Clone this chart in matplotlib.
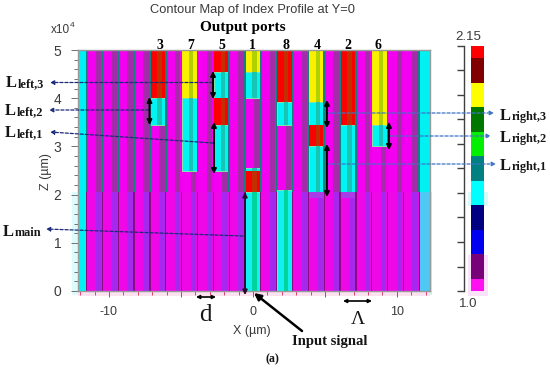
import matplotlib
matplotlib.use("Agg")
import matplotlib.pyplot as plt
from matplotlib.patches import Rectangle, FancyArrowPatch
from matplotlib.ticker import MultipleLocator, FixedLocator, NullFormatter

W, H = 550, 370
TITLE = "Contour Map of Index Profile at Y=0"
port_labels = ["3", "7", "5", "1", "8", "4", "2", "6"]
port_centers = [-6.6, -4.4, -2.2, 0.0, 2.2, 4.4, 6.6, 8.8]
cell_centers = [-11.0, -9.9, -8.8, -7.7, -6.6, -5.5, -4.4, -3.3, -2.2, -1.1, 0.0,
                1.1, 2.2, 3.3, 4.4, 5.5, 6.6, 7.7, 8.8, 9.9, 11.0]
port_segments = {
    "3": [(4.0, 5.0, "red"), (3.45, 4.0, "cyan")],
    "7": [(4.0, 5.0, "yellow"), (2.5, 4.0, "cyan")],
    "5": [(4.55, 5.0, "red"), (4.0, 4.55, "cyan"), (3.45, 4.0, "red"), (2.5, 3.45, "cyan")],
    "1": [(4.55, 5.0, "yellow"), (4.0, 4.55, "cyan"), (2.5, 2.55, "cyan"), (2.05, 2.5, "red"),
          (0.0, 2.05, "lowcyan")],
    "8": [(3.93, 5.0, "red"), (3.45, 3.93, "cyan"), (0.0, 2.1, "lowcyan")],
    "4": [(3.93, 5.0, "yellow"), (3.45, 3.93, "cyan"), (3.0, 3.45, "red"), (2.05, 3.0, "cyan"),
          (1.93, 2.05, "lowpurple")],
    "2": [(3.45, 5.0, "red"), (2.05, 3.45, "cyan"), (1.93, 2.05, "lowpurple")],
    "6": [(3.45, 5.0, "yellow"), (3.0, 3.45, "cyan")],
}
z_split = 2.05
cbar_bounds = [1.0, 1.0575, 1.1725, 1.2875, 1.4025, 1.5175, 1.6325, 1.7475, 1.8625,
               1.9775, 2.0925, 2.15]
cbar_colors = ["#ff10f0", "#780078", "#0000f0", "#000080", "#00ffff", "#008080",
               "#00f000", "#007800", "#ffff00", "#800000", "#ff0000"]
cbar_ticks = [1.0, 1.115, 1.23, 1.345, 1.46, 1.575, 1.69, 1.805, 1.92, 2.035, 2.15]

base = {"red": "#fa0000", "yellow": "#fbf000", "cyan": "#00f4f4", "magenta": "#f400f0",
        "lowcyan": "#12f0f4", "lowpurple": "#a83ce8", "lowmagenta": "#ee08e8"}
stripe = {"red": "#c03000", "yellow": "#b0d000", "cyan": "#18c4b4", "magenta": "#a42ca8",
          "lowcyan": "#00d49c", "lowpurple": "#a83ce8", "lowmagenta": "#a428ee"}

plt.rcParams["font.family"] = ["Liberation Sans", "DejaVu Sans"]
GREY = "#3a3a3a"
fig = plt.figure(figsize=(W / 100, H / 100), dpi=100, facecolor="white")

def fx(x): return x / W
def fy(y): return 1 - y / H

def halo(x0, y0, w, h, c):
    fig.add_artist(Rectangle((fx(x0), fy(y0 + h)), w / W, h / H, transform=fig.transFigure,
                             fc=c, ec="none", zorder=0))

halo(72, 192, 6, 103, "#dcfbfb")
halo(78, 292, 352, 4, "#fde2f0")
halo(430, 192, 2, 103, "#c8f8e0")
halo(468, 192, 20, 14, "#d8fbfb")
halo(468, 255, 20, 41, "#fbe2fb")

ax = fig.add_axes([78 / W, 1 - 291 / H, (430 - 78) / W, (291 - 50) / H])
ax.set_facecolor("none")
ax.set_xlim(-12.15, 12.3)
ax.set_ylim(0, 5)

def column(c, z0, z1, kind, width=1.1):
    ax.bar(c, z1 - z0, width=width, bottom=z0, color=base[kind], linewidth=0, zorder=2)
    ax.bar(c + 0.27, z1 - z0, width=0.38, bottom=z0, color=stripe[kind], linewidth=0, zorder=3)

# slabs
ax.bar(-11.85, 5, width=0.6, color="#00f0f4", linewidth=0, zorder=2)
ax.bar(11.925, z_split, width=0.75, color="#50c8f4", linewidth=0, zorder=2)
ax.bar(11.925, 5 - z_split, width=0.75, bottom=z_split, color="#00f0f4", linewidth=0, zorder=2)

# background cells
for c in cell_centers:
    column(c, z_split, 5, "magenta")
    column(c, 0, z_split, "lowmagenta")
    for edge in (c - 0.55, c + 0.55):
        ax.bar(edge, 5 - z_split, width=0.11, bottom=z_split, color="#128080", linewidth=0, zorder=6)
        ax.bar(edge, z_split, width=0.09, color="#8e0a80", linewidth=0, zorder=6)

# guide segments
for lab, c in zip(port_labels, port_centers):
    for z0, z1, kind in port_segments[lab]:
        ec = "#7fe8a8" if "cyan" in kind else "none"
        ax.bar(c, z1 - z0, width=1.04, bottom=z0, color=base[kind], edgecolor=ec,
               linewidth=0.7, zorder=4)
        ax.bar(c + 0.1, z1 - z0, width=0.3, bottom=z0, color=stripe[kind], linewidth=0, zorder=5)

for s in ax.spines.values():
    s.set_color("#9a9a9a")
    s.set_linewidth(1.0)
    s.set_zorder(8)
ax.xaxis.set_major_locator(FixedLocator([-10, -5, 0, 5, 10]))
ax.xaxis.set_minor_locator(MultipleLocator(1))
ax.set_xticklabels(["-10", "", "0", "", "10"])
ax.yaxis.set_major_locator(MultipleLocator(1))
ax.yaxis.set_minor_locator(MultipleLocator(0.2))
ax.tick_params(axis="x", which="major", length=4, width=0.7, color="#806070",
               labelsize=9, labelcolor=GREY, pad=7)
ax.tick_params(axis="x", which="minor", length=3, width=0.7, color="#e04070")
ax.tick_params(axis="y", which="major", length=5, width=0.7, color="#707070",
               labelsize=10, labelcolor=GREY, pad=7)
ax.tick_params(axis="y", which="minor", length=3, width=0.7, color="#707070")

# colour bar: the axes starts at the tick line, the bar sits to its right
cax = fig.add_axes([464 / W, 1 - 291 / H, 20 / W, (291 - 46) / H])
cax.set_xlim(0, 20)
cax.set_ylim(1.0, 2.15)
cax.set_facecolor("none")
for lo, hi, col in zip(cbar_bounds[:-1], cbar_bounds[1:], cbar_colors):
    cax.bar(13.5, hi - lo, width=13, bottom=lo, color=col, linewidth=0)
for k in ("top", "right", "bottom"):
    cax.spines[k].set_visible(False)
cax.spines["left"].set_visible(True)
cax.spines["left"].set_color("#404040")
cax.spines["left"].set_linewidth(1.0)
cax.set_xticks([])
cax.set_yticks(cbar_ticks)
cax.set_yticklabels([])
cax.tick_params(axis="y", left=True, length=5, width=1.0, color="#404040")

def txt(x, y, s, **kw):
    kw.setdefault("ha", "center")
    kw.setdefault("va", "baseline")
    return fig.text(fx(x), fy(y), s, **kw)

def arrow(x0, y0, x1, y1, style="-|>", color="black", lw=1.5, ls="-", ms=7):
    fig.add_artist(FancyArrowPatch((fx(x0), fy(y0)), (fx(x1), fy(y1)), transform=fig.transFigure,
                                   arrowstyle=style, mutation_scale=ms, color=color, lw=lw,
                                   linestyle=ls, shrinkA=0, shrinkB=0, zorder=10))

txt(253, 13, TITLE, fontsize=9.3, color=GREY)
txt(243, 31, "Output ports", family="Liberation Serif", weight="bold", fontsize=11, color="black")
for lab, x in zip(port_labels, [160, 191, 222, 252, 286, 317, 348, 378]):
    txt(x, 49, lab, family="Liberation Serif", weight="bold", fontsize=10, color="black")

txt(51, 33, "x10", ha="left", fontsize=8.5, color=GREY)
txt(70, 27, "4", ha="left", fontsize=6, color=GREY)
fig.text(fx(46), fy(172), "Z (µm)", rotation=90, ha="center", va="center", fontsize=9, color=GREY)
txt(252, 334, "X (µm)", fontsize=9, color=GREY)
txt(468, 40, "2.15", fontsize=9.5, color=GREY)
txt(468, 307, "1.0", fontsize=9.5, color=GREY)

def label(x, y, sub):
    txt(x, y, "L", ha="left", family="Liberation Serif", weight="bold", fontsize=12, color="#151515")
    txt(x + 11.5, y, sub, ha="left", family="Liberation Serif", weight="bold", fontsize=8.8, color="#151515")

label(6, 87, "left,3")
label(5, 115, "left,2")
label(5, 137, "left,1")
label(3, 236, "main")
label(500, 120, "right,3")
label(500, 142, "right,2")
label(500, 170, "right,1")

NAVY = "#1c2a78"
BLUE = "#3f74c4"
arrow(213, 82.5, 50, 82.5, color=NAVY, lw=0.9, ls=(0, (2.5, 1.5)), ms=6)
arrow(149, 110, 49, 110, color=NAVY, lw=0.9, ls=(0, (2.5, 1.5)), ms=6)
arrow(213, 143, 50, 132, color=NAVY, lw=0.9, ls=(0, (2.5, 1.5)), ms=6)
arrow(243, 236, 46, 229, color=NAVY, lw=0.9, ls=(0, (2.5, 1.5)), ms=6)
arrow(327, 113, 494, 113, color=BLUE, lw=0.9, ls=(0, (2.5, 1.5)), ms=6)
arrow(390, 136, 491, 136, color=BLUE, lw=0.9, ls=(0, (2.5, 1.5)), ms=6)
arrow(327, 164, 496, 164, color=BLUE, lw=0.9, ls=(0, (2.5, 1.5)), ms=6)

for x0, y0, x1, y1 in [(213, 71, 213, 99), (149.5, 97, 149.5, 125), (214, 122, 214, 174),
                       (327, 100, 327, 128), (327, 144, 327, 197), (389, 122, 389, 150)]:
    arrow(x0, y0, x1, y1, style="<|-|>", lw=1.4, ms=7)
arrow(245, 192, 245, 295, style="<|-|>", color="#2a0a28", lw=1.2, ms=7)
arrow(196, 297, 216, 297, style="<|-|>", lw=1.2, ms=5)
arrow(343, 301, 372, 301, style="<|-|>", lw=1.2, ms=5)
arrow(302, 331, 254, 293, style="-|>", lw=1.8, ms=10)

txt(205, 321, "d", family="Liberation Serif", fontsize=18, color="#151515")
txt(358, 324, "Λ", family="Liberation Serif", fontsize=14, color="#151515")
txt(330, 345, "Input signal", family="Liberation Serif", weight="bold", fontsize=10.5, color="#151515")
txt(272, 362, "(a)", family="Liberation Serif", weight="bold", fontsize=8.5, color="#151515")

fig.savefig("out.png", dpi=100)
